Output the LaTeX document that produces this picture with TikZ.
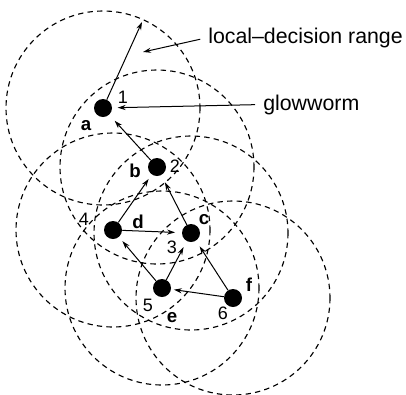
\documentclass[tikz,border=0pt]{standalone}
\usepackage{fontspec}
\setmainfont{Liberation Sans}
\usetikzlibrary{arrows.meta}

\begin{document}
\begin{tikzpicture}[x=0.75pt, y=-0.75pt, font=\fontsize{13.5}{16}\selectfont,
  worm/.style={circle, fill=black, inner sep=0pt, minimum size=13.5pt},
  reach/.style={dash pattern=on 4pt off 3.2pt, line width=0.85pt},
  move/.style={-{Stealth[length=6pt, width=3.8pt]}, line width=0.75pt, shorten >=4pt},
  tag/.style={font=\fontsize{14}{16}\selectfont\bfseries, inner sep=0pt},
  idx/.style={inner sep=0pt},
  note/.style={font=\fontsize{16}{19}\selectfont, inner sep=0pt}]
  \useasboundingbox (0,0) rectangle (406,394);
  \node[worm] (a) at (103,108) {};
  \node[worm] (b) at (157,167) {};
  \node[worm] (c) at (191,233) {};
  \node[worm] (d) at (113,230) {};
  \node[worm] (e) at (162,288) {};
  \node[worm] (f) at (233,298) {};
  \foreach \w in {a,b,c,d,e,f}
    \draw[reach] (\w.center) circle[radius=97];
  \node[idx] (n1) at (123,97) {1};
  \node[idx] (n2) at (175,166) {2};
  \node[idx] (n3) at (172,247) {3};
  \node[idx] (n4) at (84,219) {4};
  \node[idx] (n5) at (148,305) {5};
  \node[idx] (n6) at (223,313) {6};
  \node[tag] (ta) at (86,126) {a};
  \node[tag] (tb) at (135,171) {b};
  \node[tag] (tc) at (204,220) {c};
  \node[tag] (td) at (138,222) {d};
  \node[tag] (te) at (172,318) {e};
  \node[tag] (tf) at (249,285) {f};
  \node[note, anchor=base west] (rangetext) at (208,43) {local--decision range};
  \node[note, anchor=base west] (glow) at (263,110) {glowworm};
  \coordinate (ahead) at (142,22);
  \coordinate (rtip) at (143,52);
  \draw[move, shorten >=0pt] (a) -- (ahead);
  \draw[move, shorten >=0pt, shorten <=6pt] (rangetext.west) -- (rtip);
  \draw[move, shorten <=6pt] (glow.west) -- (a);
  \draw[move, shorten >=6pt] (b) -- (a);
  \draw[move] (d) -- (b);
  \draw[move, shorten >=6pt] (c) -- (b);
  \draw[move, shorten >=5pt] (d) -- (c);
  \draw[move] (e) -- (d);
  \draw[move, shorten >=5pt] (e) -- (c);
  \draw[move, shorten >=2pt] (f) -- (e);
  \draw[move, shorten >=5pt] (f) -- (c);
\end{tikzpicture}
\end{document}
